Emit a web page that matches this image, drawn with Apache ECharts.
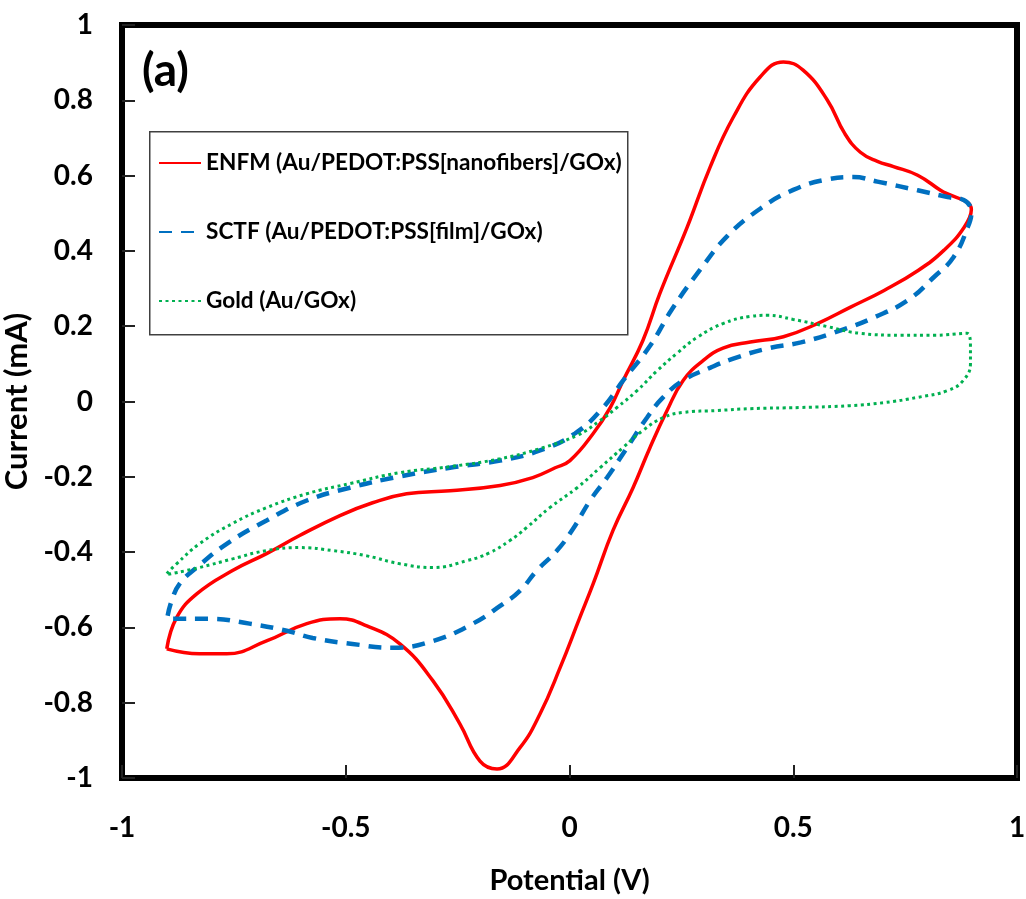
<!DOCTYPE html>
<html>
<head>
<meta charset="utf-8">
<script src="https://cdn.jsdelivr.net/npm/echarts@6/dist/echarts.min.js"></script>
<style>
html,body{margin:0;padding:0;background:#fff;}
#chart{width:1026px;height:899px;}
</style>
</head>
<body>
<div id="chart"></div>
<script>
// Tick labels
const potentialTicks = ['-1', '-0.5', '0', '0.5', '1'];
const currentTicks = ['-1', '-0.8', '-0.6', '-0.4', '-0.2', '0', '0.2', '0.4', '0.6', '0.8', '1'];

// Series names
const seriesNames = [
  'ENFM (Au/PEDOT:PSS[nanofibers]/GOx)',
  'SCTF (Au/PEDOT:PSS[film]/GOx)',
  'Gold (Au/GOx)'
];

// ENFM: [potential V, current mA]
const enfmForward = [
  [-0.900,-0.657],[-0.878,-0.574],[-0.833,-0.511],[-0.753,-0.449],[-0.677,-0.404],
  [-0.603,-0.356],[-0.513,-0.303],[-0.440,-0.269],[-0.364,-0.245],[-0.267,-0.237],
  [-0.155,-0.223],[-0.082,-0.202],[-0.032,-0.176],[0.001,-0.157],[0.053,-0.085],
  [0.091,-0.016],[0.120,0.056],[0.164,0.162],[0.202,0.287],[0.263,0.463],
  [0.314,0.622],[0.366,0.755],[0.426,0.862],[0.478,0.902],[0.522,0.880],
  [0.576,0.801],[0.615,0.712],[0.650,0.662],[0.688,0.638],[0.724,0.624],
  [0.778,0.601],[0.829,0.561],[0.898,0.510]
];
const enfmReverse = [
  [0.882,0.463],[0.837,0.402],[0.779,0.348],[0.703,0.295],[0.627,0.250],
  [0.554,0.207],[0.478,0.172],[0.404,0.158],[0.343,0.142],[0.299,0.109],
  [0.254,0.056],[0.218,-0.024],[0.180,-0.122],[0.142,-0.229],[0.097,-0.343],
  [0.053,-0.484],[0.023,-0.574],[-0.021,-0.707],[-0.066,-0.830],[-0.111,-0.920],
  [-0.162,-0.976],[-0.200,-0.955],[-0.245,-0.856],[-0.305,-0.742],[-0.379,-0.644],
  [-0.453,-0.596],[-0.513,-0.577],[-0.587,-0.590],[-0.677,-0.636],[-0.766,-0.670],
  [-0.827,-0.670],[-0.900,-0.657]
];

// SCTF
const sctfForward = [
  [-0.898,-0.569],[-0.889,-0.529],[-0.871,-0.484],[-0.833,-0.441],[-0.766,-0.378],
  [-0.677,-0.316],[-0.587,-0.263],[-0.491,-0.229],[-0.379,-0.199],[-0.267,-0.176],
  [-0.155,-0.157],[-0.066,-0.130],[0.012,-0.085],[0.075,-0.016],[0.120,0.056],
  [0.180,0.148],[0.229,0.245],[0.292,0.350],[0.353,0.440],[0.426,0.512],
  [0.500,0.562],[0.576,0.590],[0.634,0.596],[0.688,0.584],[0.778,0.561],
  [0.845,0.543],[0.881,0.535],[0.898,0.503]
];
const sctfReverse = [
  [0.890,0.463],[0.858,0.383],[0.814,0.330],[0.756,0.269],[0.680,0.223],
  [0.606,0.189],[0.517,0.157],[0.443,0.141],[0.366,0.114],[0.315,0.090],
  [0.254,0.056],[0.209,0.011],[0.173,-0.043],[0.129,-0.122],[0.084,-0.202],
  [0.046,-0.263],[0.008,-0.338],[-0.028,-0.396],[-0.073,-0.449],[-0.111,-0.503],
  [-0.155,-0.543],[-0.216,-0.590],[-0.305,-0.636],[-0.395,-0.654],[-0.485,-0.644],
  [-0.574,-0.628],[-0.632,-0.609],[-0.715,-0.590],[-0.805,-0.577],[-0.887,-0.577],
  [-0.898,-0.569]
];

// Gold
const goldForward = [
  [-0.900,-0.457],[-0.878,-0.431],[-0.827,-0.378],[-0.753,-0.324],[-0.677,-0.282],
  [-0.587,-0.245],[-0.491,-0.218],[-0.379,-0.189],[-0.267,-0.173],[-0.155,-0.152],
  [-0.066,-0.125],[0.017,-0.090],[0.068,-0.051],[0.106,-0.016],[0.151,0.029],
  [0.196,0.082],[0.240,0.128],[0.285,0.170],[0.343,0.207],[0.404,0.226],
  [0.442,0.229],[0.500,0.218],[0.576,0.199],[0.650,0.181],[0.740,0.176],
  [0.814,0.176],[0.888,0.181],[0.896,0.144],[0.896,0.101]
];
const goldReverse = [
  [0.880,0.056],[0.845,0.029],[0.778,0.011],[0.703,-0.003],[0.627,-0.011],
  [0.515,-0.016],[0.404,-0.019],[0.330,-0.024],[0.254,-0.029],[0.209,-0.043],
  [0.164,-0.077],[0.120,-0.122],[0.068,-0.176],[0.017,-0.229],[-0.044,-0.282],
  [-0.096,-0.335],[-0.134,-0.370],[-0.179,-0.402],[-0.230,-0.423],[-0.305,-0.441],
  [-0.379,-0.431],[-0.453,-0.410],[-0.529,-0.396],[-0.603,-0.388],[-0.677,-0.396],
  [-0.753,-0.418],[-0.827,-0.441],[-0.900,-0.460]
];

const FONT = 'Lato';
const chart = echarts.init(document.getElementById('chart'), null, {renderer: 'canvas'});

function tickFormatter(labels, min, step) {
  return function (v) {
    const i = Math.round((v - min) / step);
    return labels[i] !== undefined ? labels[i] : '';
  };
}

function frameLine() {
  return {show: true, onZero: false, lineStyle: {color: '#000', width: 6, cap: 'square'}};
}
function innerTick() {
  return {show: true, inside: true, length: 13, lineStyle: {color: '#222', width: 2}};
}

const option = {
  animation: false,
  backgroundColor: '#fff',
  grid: {left: 122, right: 9, top: 25, bottom: 121, show: false, containLabel: false, outerBoundsMode: 'none'},
  xAxis: [
    {
      type: 'value', min: -1, max: 1, interval: 0.5, position: 'bottom',
      name: 'Potential (V)', nameLocation: 'middle', nameGap: 88,
      nameTextStyle: {fontFamily: FONT, fontWeight: 'bold', fontSize: 29, color: '#000'},
      axisLine: frameLine(),
      axisTick: innerTick(),
      axisLabel: {
        margin: 36, fontFamily: FONT, fontWeight: 'bold', fontSize: 28, color: '#000',
        formatter: tickFormatter(potentialTicks, -1, 0.5)
      },
      splitLine: {show: false}
    },
    {
      type: 'value', min: -1, max: 1, interval: 0.5, position: 'top',
      axisLine: frameLine(), axisTick: {show: false}, axisLabel: {show: false}, splitLine: {show: false}
    }
  ],
  yAxis: [
    {
      type: 'value', min: -1, max: 1, interval: 0.2, position: 'left',
      name: 'Current (mA)', nameLocation: 'middle', nameGap: 76,
      nameTextStyle: {fontFamily: FONT, fontWeight: 'bold', fontSize: 31, color: '#000'},
      axisLine: frameLine(),
      axisTick: innerTick(),
      axisLabel: {
        margin: 29, fontFamily: FONT, fontWeight: 'bold', fontSize: 28, color: '#000',
        formatter: tickFormatter(currentTicks, -1, 0.2)
      },
      splitLine: {show: false}
    },
    {
      type: 'value', min: -1, max: 1, interval: 0.2, position: 'right',
      axisLine: frameLine(), axisTick: {show: false}, axisLabel: {show: false}, splitLine: {show: false}
    }
  ],
  legend: {
    orient: 'vertical', left: 149, top: 131,
    padding: [20, 0, 0, 9], itemGap: 45, itemWidth: 42, itemHeight: 14,
    itemStyle: {opacity: 0},
    textStyle: {fontFamily: FONT, fontWeight: 'bold', fontSize: 22.6, color: '#000', lineHeight: 24},
    data: seriesNames
  },
  graphic: [
    {type: 'rect', left: 149, top: 131, z: 0, silent: true,
     shape: {width: 478, height: 203},
     style: {fill: 'transparent', stroke: '#404040', lineWidth: 1.5}},
    {type: 'text', left: 142, top: 48, z: 10, silent: true,
     style: {text: '(a)', fontFamily: FONT, fontWeight: 'bold', fontSize: 46, fill: '#000'}}
  ],
  series: [
    {
      name: seriesNames[0], type: 'line', symbol: 'none', smooth: 0.45,
      data: enfmForward.concat(enfmReverse),
      lineStyle: {color: '#FF0000', width: 3.5, type: 'solid'},
      itemStyle: {color: '#FF0000'}
    },
    {
      name: seriesNames[1], type: 'line', symbol: 'none', smooth: 0.45,
      data: sctfForward.concat(sctfReverse),
      lineStyle: {color: '#0070C0', width: 4.5, type: [13, 9]},
      itemStyle: {color: '#0070C0'}
    },
    {
      name: seriesNames[2], type: 'line', symbol: 'none', smooth: 0.45,
      data: goldForward.concat(goldReverse),
      lineStyle: {color: '#00B050', width: 3, type: [3, 3.5]},
      itemStyle: {color: '#00B050'}
    }
  ]
};
chart.setOption(option);
</script>
</body>
</html>
